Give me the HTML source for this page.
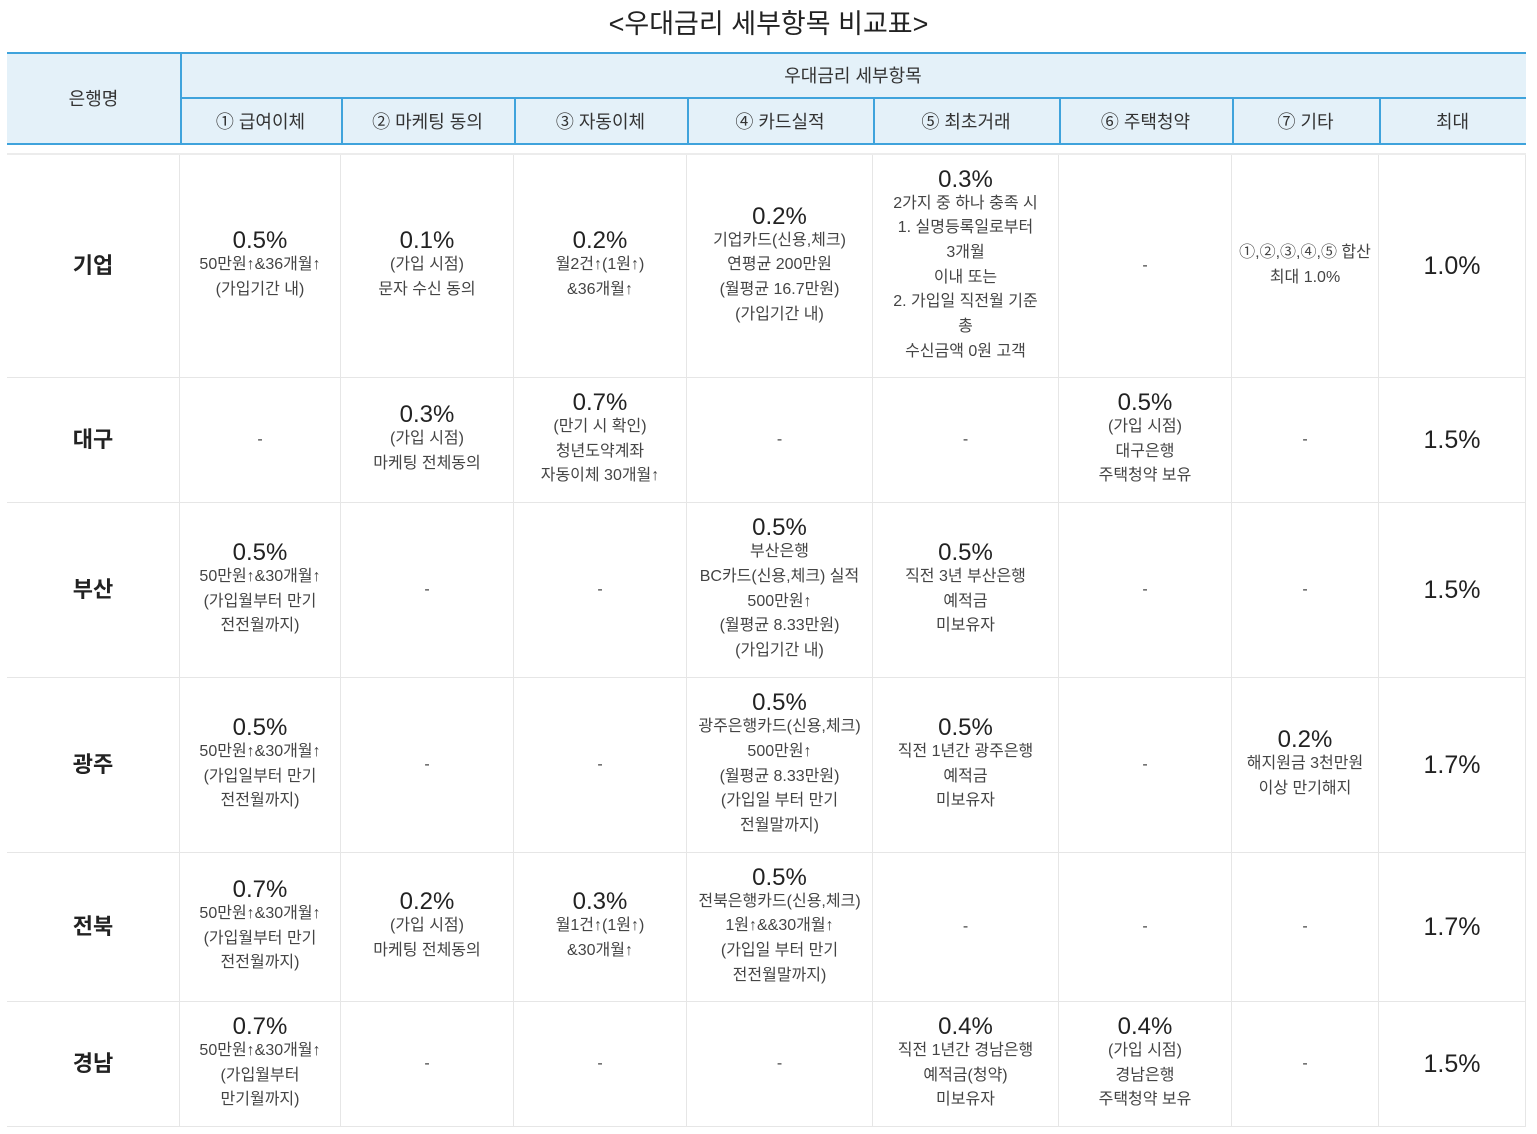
<!DOCTYPE html>
<html lang="ko"><head><meta charset="utf-8">
<style>
body{margin:0;width:1537px;height:1134px;background:#fff;font-family:"Liberation Sans","Noto Sans CJK KR",sans-serif;color:#333;position:relative;overflow:hidden}
.t{position:absolute;left:0;width:1537px;top:2px;text-align:center;font-size:27px;color:#222}
.h{position:absolute;background:#e4f1f9;display:flex;align-items:center;justify-content:center;font-size:18px;color:#333;box-sizing:border-box}
.c{position:absolute;display:flex;flex-direction:column;align-items:center;justify-content:center;text-align:center;font-size:16px;line-height:24.7px;color:#444;box-sizing:border-box;border-right:1px solid #e6e6e6;border-bottom:1px solid #e6e6e6}
.c b{font-size:24px;font-weight:normal;color:#222;line-height:24px}
.bank{font-size:22px;font-weight:bold;color:#222}
.mx{font-size:25px;color:#222}
.line{position:absolute;background:#3fa3dc}
</style></head><body>
<div class="t">&lt;우대금리 세부항목 비교표&gt;</div>
<div id="tbl"></div>
<script>
const cols=[7,180,341,514,687,873,1059,1232,1379,1526];
const rows=[155,378,503,678,853,1002,1127];
const heads=["① 급여이체","② 마케팅 동의","③ 자동이체","④ 카드실적","⑤ 최초거래","⑥ 주택청약","⑦ 기타","최대"];
const banks=["기업","대구","부산","광주","전북","경남"];
const data=[
[["0.5%","50만원↑&36개월↑","(가입기간 내)"],["0.1%","(가입 시점)","문자 수신 동의"],["0.2%","월2건↑(1원↑)","&36개월↑"],["0.2%","기업카드(신용,체크)","연평균 200만원","(월평균 16.7만원)","(가입기간 내)"],["0.3%","2가지 중 하나 충족 시","1. 실명등록일로부터","3개월","이내 또는","2. 가입일 직전월 기준","총","수신금액 0원 고객"],["-"],["","①,②,③,④,⑤ 합산","최대 1.0%"],["1.0%"]],
[["-"],["0.3%","(가입 시점)","마케팅 전체동의"],["0.7%","(만기 시 확인)","청년도약계좌","자동이체 30개월↑"],["-"],["-"],["0.5%","(가입 시점)","대구은행","주택청약 보유"],["-"],["1.5%"]],
[["0.5%","50만원↑&30개월↑","(가입월부터 만기","전전월까지)"],["-"],["-"],["0.5%","부산은행","BC카드(신용,체크) 실적","500만원↑","(월평균 8.33만원)","(가입기간 내)"],["0.5%","직전 3년 부산은행","예적금","미보유자"],["-"],["-"],["1.5%"]],
[["0.5%","50만원↑&30개월↑","(가입일부터 만기","전전월까지)"],["-"],["-"],["0.5%","광주은행카드(신용,체크)","500만원↑","(월평균 8.33만원)","(가입일 부터 만기","전월말까지)"],["0.5%","직전 1년간 광주은행","예적금","미보유자"],["-"],["0.2%","해지원금 3천만원","이상 만기해지"],["1.7%"]],
[["0.7%","50만원↑&30개월↑","(가입월부터 만기","전전월까지)"],["0.2%","(가입 시점)","마케팅 전체동의"],["0.3%","월1건↑(1원↑)","&30개월↑"],["0.5%","전북은행카드(신용,체크)","1원↑&&30개월↑","(가입일 부터 만기","전전월말까지)"],["-"],["-"],["-"],["1.7%"]],
[["0.7%","50만원↑&30개월↑","(가입월부터","만기월까지)"],["-"],["-"],["-"],["0.4%","직전 1년간 경남은행","예적금(청약)","미보유자"],["0.4%","(가입 시점)","경남은행","주택청약 보유"],["-"],["1.5%"]]
];
const T=document.getElementById('tbl');
function add(cls,x,y,w,h,html,name){const d=document.createElement('div');d.className=cls;d.style.left=x+'px';d.style.top=y+'px';d.style.width=w+'px';d.style.height=h+'px';d.innerHTML=html;


T.appendChild(d);return d;}
// header
add('h',cols[0],52,cols[1]-cols[0],92,'은행명','header-bank-name');
add('h',cols[1],52,cols[9]-cols[1],46,'우대금리 세부항목','header-group');
heads.forEach((s,i)=>add('h',cols[i+1],98,cols[i+2]-cols[i+1],46,s,'header-col-'+(i+1)));
function ln(x,y,w,h,n){const d=add('line',x,y,w,h,'',n);}
ln(7,52,1519,2,'header-top-line');ln(180,97,1346,2,'header-mid-line');ln(7,143,1519,2,'header-bottom-line');
ln(180,52,2,92,'header-vline');for(let i=2;i<9;i++)ln(cols[i],98,2,46,'header-vline');
const g=add('line',7,153,1519,2,'','body-top-line');g.style.background='#ececec';
banks.forEach((b,r)=>{const y=rows[r],h=rows[r+1]-rows[r];
 const bc=add('c bank',cols[0],y,cols[1]-cols[0],h,b,'bank-'+b);
 data[r].forEach((cell,i)=>{let html;
  if(i==7)html='<span class="mx">'+cell[0]+'</span>';
  else if(cell.length==1)html='<span>'+cell[0]+'</span>';
  else html=(cell[0]?'<b>'+cell[0]+'</b>':'')+cell.slice(1).map(s=>'<span>'+s+'</span>').join('');
  add('c',cols[i+1],y,cols[i+2]-cols[i+1],h,html,'cell-'+b+'-'+(i+1));});
});
</script>
</body></html>
